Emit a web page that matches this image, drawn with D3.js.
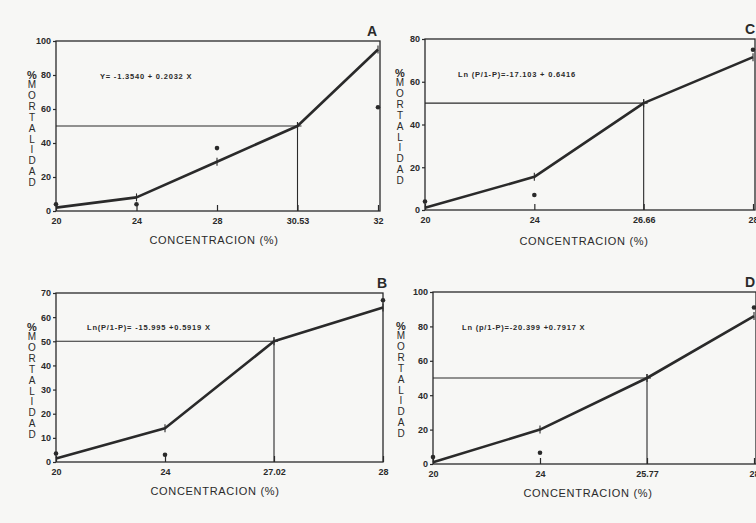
<!DOCTYPE html>
<html>
<head>
<meta charset="utf-8">
<script src="https://cdn.jsdelivr.net/npm/d3@7"></script>
<style>
  body { margin: 0; background: #f7f7f5; }
  svg { display: block; }
  text { font-family: "Liberation Sans", Arial, sans-serif; fill: #2a2a2a; }
</style>
</head>
<body>
<svg id="chart" width="756" height="523"></svg>
<script>
// --- data ---
// x ticks are evenly spaced in the original drawing, so they are treated as points
const xTicksA = ["20", "24", "28", "30.53", "32"];
const fitA = [2, 8, 29, 50, 95];
const obsXA = ["20", "24", "28", "32"];
const obsA = [4, 4, 37, 61];
const yTicksA = [0, 20, 40, 60, 80, 100];

const xTicksC = ["20", "24", "26.66", "28"];
const fitC = [1, 15.5, 50, 71.5];
const obsXC = ["20", "24", "28"];
const obsC = [4, 7, 75];
const yTicksC = [0, 20, 40, 60, 80];

const xTicksB = ["20", "24", "27.02", "28"];
const fitB = [1.5, 14, 50, 64];
const obsXB = ["20", "24", "28"];
const obsB = [3.5, 3, 67];
const yTicksB = [0, 10, 20, 30, 40, 50, 60, 70];

const xTicksD = ["20", "24", "25.77", "28"];
const fitD = [1, 20, 50, 86];
const obsXD = ["20", "24", "28"];
const obsD = [4, 6.5, 91];
const yTicksD = [0, 20, 40, 60, 80, 100];

const ld50 = { A: "30.53", C: "26.66", B: "27.02", D: "25.77" };
const equations = {
  A: "Y= -1.3540 + 0.2032 X",
  C: "Ln (P/1-P)=-17.103 + 0.6416",
  B: "Ln(P/1-P)= -15.995 +0.5919 X",
  D: "Ln (p/1-P)=-20.399 +0.7917 X"
};
const xTitle = "CONCENTRACION (%)";
const yTitle = "MORTALIDAD";

const ink = "#2a2a2a";
const svg = d3.select("#chart");

const panels = [
  { id: "A", ticks: xTicksA, fit: fitA, obsX: obsXA, obs: obsA, yTicks: yTicksA,
    l: 56, t: 41, r: 380, b: 211, lastX: 378, labX: 32, eqX: 100, eqY: 76, letX: 372, titleX: 214, titleY: 244 },
  { id: "C", ticks: xTicksC, fit: fitC, obsX: obsXC, obs: obsC, yTicks: yTicksC,
    l: 425, t: 39, r: 755, b: 210, lastX: 753, labX: 400, eqX: 458, eqY: 74, letX: 750, titleX: 584, titleY: 245 },
  { id: "B", ticks: xTicksB, fit: fitB, obsX: obsXB, obs: obsB, yTicks: yTicksB,
    l: 56, t: 293, r: 383, b: 462, lastX: 383, labX: 32, eqX: 87, eqY: 327, letX: 382, titleX: 215, titleY: 495 },
  { id: "D", ticks: xTicksD, fit: fitD, obsX: obsXD, obs: obsD, yTicks: yTicksD,
    l: 433, t: 292, r: 756, b: 464, lastX: 754, labX: 401, eqX: 462, eqY: 327, letX: 750, titleX: 588, titleY: 497 }
];

panels.forEach(p => {
  const g = svg.append("g");
  const x = d3.scalePoint().domain(p.ticks).range([p.l, p.lastX]);
  const y = d3.scaleLinear().domain([0, d3.max(p.yTicks)]).range([p.b, p.t]);

  // frame
  g.append("rect")
    .attr("x", p.l).attr("y", p.t)
    .attr("width", p.r - p.l).attr("height", p.b - p.t)
    .attr("fill", "none").attr("stroke", ink).attr("stroke-width", 1.3);

  // axes
  const ax = g.append("g")
    .attr("transform", `translate(0,${p.b})`)
    .call(d3.axisBottom(x).tickSize(-6).tickPadding(7));
  const ay = g.append("g")
    .attr("transform", `translate(${p.l},0)`)
    .call(d3.axisLeft(y).tickValues(p.yTicks).tickSize(3).tickPadding(2));
  [ax, ay].forEach(a => {
    a.select(".domain").remove();
    a.selectAll("line").attr("stroke", ink).attr("stroke-width", 1.2);
    a.selectAll("text")
      .style("font-family", "'Liberation Sans', Arial, sans-serif")
      .style("font-size", "9px").style("font-weight", "bold")
      .attr("fill", ink);
  });

  // LD50 guide lines
  const xl = x(ld50[p.id]);
  g.append("line")
    .attr("x1", p.l).attr("x2", xl + 4)
    .attr("y1", y(50)).attr("y2", y(50))
    .attr("stroke", ink).attr("stroke-width", 1.1);
  g.append("line")
    .attr("x1", xl).attr("x2", xl)
    .attr("y1", y(50) - 4).attr("y2", p.b)
    .attr("stroke", ink).attr("stroke-width", 1.1);

  // fitted line
  const pts = p.ticks.map((k, i) => [x(k), y(p.fit[i])]);
  g.append("path")
    .attr("d", d3.line()(pts))
    .attr("fill", "none").attr("stroke", ink)
    .attr("stroke-width", 2.6).attr("stroke-linejoin", "round");

  // small crosses on the vertices
  g.selectAll(".cross")
    .data(pts.slice(1))
    .join("line")
    .attr("x1", d => d[0]).attr("x2", d => d[0])
    .attr("y1", d => d[1] - 4).attr("y2", d => d[1] + 4)
    .attr("stroke", ink).attr("stroke-width", 1.1);

  // observed points
  g.selectAll(".obs")
    .data(p.obsX.map((k, i) => [x(k), y(p.obs[i])]))
    .join("circle")
    .attr("cx", d => d[0]).attr("cy", d => d[1])
    .attr("r", 2.3).attr("fill", ink);

  // equation
  g.append("text")
    .attr("x", p.eqX).attr("y", p.eqY).attr("dy", "0.35em")
    .style("font-size", "7.5px").style("font-weight", "bold")
    .style("letter-spacing", "0.8px")
    .text(equations[p.id]);

  // panel letter
  g.append("text")
    .attr("x", p.letX).attr("y", p.t - 5)
    .attr("text-anchor", "middle")
    .style("font-size", "14px").style("font-weight", "bold")
    .text(p.id);

  // x title
  g.append("text")
    .attr("x", p.titleX).attr("y", p.titleY)
    .attr("text-anchor", "middle")
    .style("font-size", "11px").style("letter-spacing", "0.7px")
    .text(xTitle);

  // y title: "%" then the word stacked letter by letter
  g.append("text")
    .attr("x", p.labX).attr("y", p.t + 34).attr("dy", "0.35em")
    .attr("text-anchor", "middle")
    .style("font-size", "11px").style("font-weight", "bold")
    .text("%");
  g.append("text")
    .attr("x", p.labX).attr("y", p.t + 38)
    .style("writing-mode", "vertical-rl")
    .style("text-orientation", "upright")
    .style("font-size", "10px")
    .style("letter-spacing", "-0.1px")
    .text(yTitle);
});
</script>
</body>
</html>
